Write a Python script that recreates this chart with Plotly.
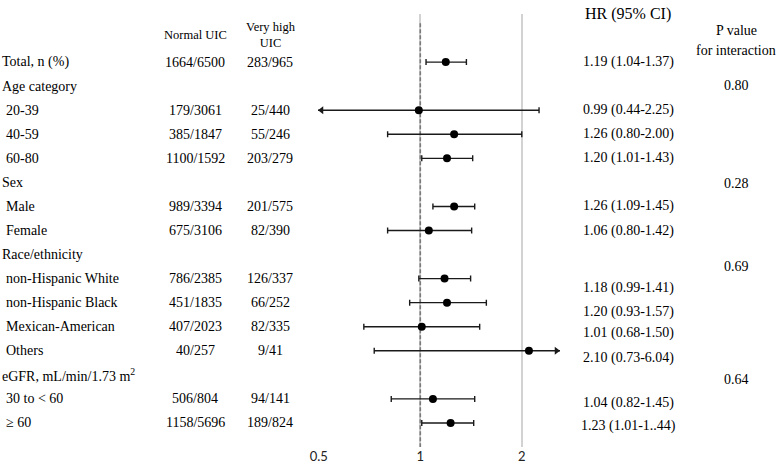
import math
import plotly.graph_objects as go

# ---------------- data ----------------
labels = ["Total, n (%)", "Age category", "20-39", "40-59", "60-80", "Sex", "Male", "Female",
          "Race/ethnicity", "non-Hispanic White", "non-Hispanic Black", "Mexican-American", "Others",
          "eGFR, mL/min/1.73 m<sup>2</sup>", "30 to < 60", "≥ 60"]
is_sub = [False, False, True, True, True, False, True, True,
          False, True, True, True, True, False, True, True]
normal_uic = ["1664/6500", "", "179/3061", "385/1847", "1100/1592", "", "989/3394", "675/3106",
              "", "786/2385", "451/1835", "407/2023", "40/257", "", "506/804", "1158/5696"]
very_high_uic = ["283/965", "", "25/440", "55/246", "203/279", "", "201/575", "82/390",
                 "", "126/337", "66/252", "82/335", "9/41", "", "94/141", "189/824"]
hr = [1.19, None, 0.99, 1.26, 1.20, None, 1.26, 1.06, None, 1.18, 1.20, 1.01, 2.10, None, 1.09, 1.23]
ci_low = [1.04, None, 0.44, 0.80, 1.01, None, 1.09, 0.80, None, 0.99, 0.93, 0.68, 0.73, None, 0.82, 1.01]
ci_high = [1.37, None, 2.25, 2.00, 1.43, None, 1.45, 1.42, None, 1.41, 1.57, 1.50, 6.04, None, 1.45, 1.44]
hr_text = ["1.19 (1.04-1.37)", "0.99 (0.44-2.25)", "1.26 (0.80-2.00)", "1.20 (1.01-1.43)",
           "1.26 (1.09-1.45)", "1.06 (0.80-1.42)", "1.18 (0.99-1.41)", "1.20 (0.93-1.57)",
           "1.01 (0.68-1.50)", "2.10 (0.73-6.04)", "1.04 (0.82-1.45)", "1.23 (1.01-1..44)"]
hr_text_rows = [0, 2, 3, 4, 6, 7, 9.39, 10.39, 11.26, 12.3, 14.17, 15.13]
p_values = ["0.80", "0.28", "0.69", "0.64"]
p_rows = [0.96, 5.03, 8.48, 13.18]
tick_vals = [0.5, 1, 2]
tick_text = ["0.5", "1", "2"]

# ---------------- layout constants ----------------
W, H = 777, 465
plot_left, plot_right = 318, 560
px_per_doubling = 101.5
x_one_px = 420.3
xr = [math.log10(2 ** ((plot_left - x_one_px) / px_per_doubling)),
      math.log10(2 ** ((plot_right - x_one_px) / px_per_doubling))]
px_per_log10 = (plot_right - plot_left) / (xr[1] - xr[0])
arrow_half = 3.5

SERIF = "Liberation Serif, Times New Roman, serif"
rows = list(range(len(labels)))

fig = go.Figure()

# reference dashed line at HR = 1
fig.add_trace(go.Scatter(x=[1, 1], y=[-1.62, 16.2], mode="lines",
                         line=dict(color="#7a7a7a", width=1.6, dash="4px,2px"),
                         hoverinfo="skip", showlegend=False))

# CI + points
ys = [r for r, v in zip(rows, hr) if v is not None]
xs = [v for v in hr if v is not None]
lows = [l for l in ci_low if l is not None]
highs = [h for h in ci_high if h is not None]
fig.add_trace(go.Scatter(
    x=xs, y=ys, mode="markers",
    marker=dict(color="black", size=8),
    error_x=dict(type="data", symmetric=False,
                 array=[h - x for h, x in zip(highs, xs)],
                 arrayminus=[x - l for l, x in zip(lows, xs)],
                 color="#1a1a1a", thickness=1.4, width=3),
    showlegend=False, hoverinfo="skip"))

# arrowheads where CI is clipped by the axis range
xmin, xmax = 10 ** xr[0], 10 ** xr[1]
ax_l, ay_l, ax_r, ay_r = [], [], [], []
for y, l, h in zip(ys, lows, highs):
    if l < xmin:
        ax_l.append(10 ** (xr[0] + arrow_half / px_per_log10)); ay_l.append(y)
    if h > xmax:
        ax_r.append(10 ** (xr[1] - arrow_half / px_per_log10)); ay_r.append(y)
fig.add_trace(go.Scatter(x=ax_l, y=ay_l, mode="markers", cliponaxis=False,
                         marker=dict(symbol="triangle-left", size=7, color="#1a1a1a"),
                         showlegend=False, hoverinfo="skip"))
fig.add_trace(go.Scatter(x=ax_r, y=ay_r, mode="markers", cliponaxis=False,
                         marker=dict(symbol="triangle-right", size=7, color="#1a1a1a"),
                         showlegend=False, hoverinfo="skip"))

ann = []
def text(x_px, y_row, s, size=14, anchor="center"):
    ann.append(dict(x=x_px / W, xref="paper", y=y_row, yref="y", text=s, showarrow=False,
                    xanchor=anchor, yanchor="middle",
                    font=dict(family=SERIF, size=size, color="black")))

# headers
text(228, -2.2, "Event/N", size=17)
text(195, -1.12, "Normal UIC", size=12.5)
text(271, -1.12, "Very high<br>UIC", size=12.5)
text(628, -2.0, "HR (95% CI)", size=16)
text(736, -1.33, "P value", size=14)
text(736, -0.5, "for interaction", size=14)

for r, lab, sub, n1, n2 in zip(rows, labels, is_sub, normal_uic, very_high_uic):
    text(4 if sub else 0, r, lab, anchor="left")
    if n1:
        text(195, r, n1)
    if n2:
        text(270, r, n2)
for r, s in zip(hr_text_rows, hr_text):
    text(628, r, s)
for r, s in zip(p_rows, p_values):
    text(736, r, s)

fig.update_layout(
    width=W, height=H,
    margin=dict(l=0, r=0, t=14, b=18, autoexpand=False),
    paper_bgcolor="white", plot_bgcolor="white",
    showlegend=False,
    annotations=ann,
    xaxis=dict(type="log", range=xr, domain=[plot_left / W, plot_right / W],
               tickvals=tick_vals, ticktext=tick_text,
               showgrid=True, gridcolor="#d2d2d2", gridwidth=1.5,
               zeroline=False, showline=False, ticks="", automargin=False,
               tickfont=dict(family="Lato, Open Sans, sans-serif", size=13, color="#222")),
    yaxis=dict(range=[16.0, -2.0], visible=False, showgrid=False, zeroline=False,
               automargin=False),
)

fig.write_html("out.html", config={"displayModeBar": False},
               post_script="document.body.style.margin='0';document.body.style.overflow='hidden';")
